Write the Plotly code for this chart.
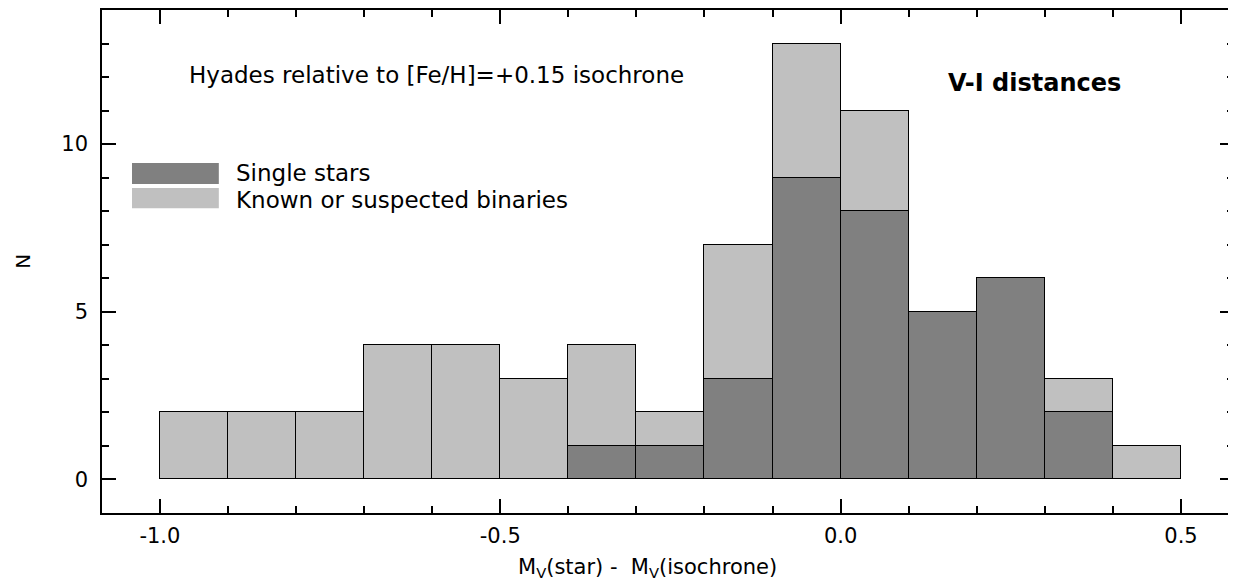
import plotly.graph_objects as go

bin_left = [-1.0, -0.9, -0.8, -0.7, -0.6, -0.5, -0.4, -0.3, -0.2, -0.1, 0.0, 0.1, 0.2, 0.3, 0.4]
single = [0, 0, 0, 0, 0, 0, 1, 1, 3, 9, 8, 5, 6, 2, 0]
binaries = [2, 2, 2, 4, 4, 3, 3, 1, 4, 4, 3, 0, 0, 1, 1]
bin_width = 0.1
x_tickvals = [-1.0, -0.5, 0.0, 0.5]
x_ticktext = ["-1.0", "-0.5", "0.0", "0.5"]
y_tickvals = [0, 5, 10]
y_ticktext = ["0", "5", "10"]

DARK = "#808080"
LIGHT = "#c0c0c0"
FONT = "DejaVu Sans"

centers = [b + bin_width / 2 for b in bin_left]

fig = go.Figure()
fig.add_trace(go.Bar(x=centers, y=single, width=bin_width, marker=dict(color=DARK, line=dict(color="black", width=1.2)),
                     name="Single stars", showlegend=False))
fig.add_trace(go.Bar(x=centers, y=binaries, width=bin_width, marker=dict(color=LIGHT, line=dict(color="black", width=1.2)),
                     name="Known or suspected binaries", showlegend=False))

axis_common = dict(showline=True, linecolor="black", linewidth=1.5, mirror="ticks", ticks="inside",
                   tickcolor="black", tickwidth=1.5, ticklen=14, showgrid=False, zeroline=False,
                   tickfont=dict(family=FONT, size=21, color="black"))

fig.update_xaxes(range=[-1.085, 0.5778], tickvals=x_tickvals, ticktext=x_ticktext,
                 minor=dict(dtick=0.1, tick0=0, ticklen=7, ticks="inside", tickcolor="black", tickwidth=1.5),
                 ticklabelstandoff=3, **axis_common)
fig.update_yaxes(range=[-1, 14], tickvals=y_tickvals, ticktext=y_ticktext,
                 minor=dict(dtick=1, tick0=0, ticklen=7, ticks="inside", tickcolor="black", tickwidth=1.5),
                 ticklabelstandoff=8, **axis_common)

# axis titles
fig.add_annotation(xref="paper", yref="paper", x=0.482, y=-0.109, text="M<sub>V</sub>(star) -  M<sub>V</sub>(isochrone)",
                   showarrow=False, xanchor="center", yanchor="middle", font=dict(family=FONT, size=21, color="black"))
fig.add_annotation(xref="paper", yref="paper", x=-0.0705, y=0.5, text="N", textangle=-90,
                   showarrow=False, xanchor="center", yanchor="middle", font=dict(family=FONT, size=20, color="black"))

# custom legend
legend_items = [("Single stars", DARK, 0.654, 0.6958, 0.676), ("Known or suspected binaries", LIGHT, 0.606, 0.646, 0.622)]
for label, col, y0, y1, yt in legend_items:
    fig.add_shape(type="rect", xref="paper", yref="paper", x0=0.0265, x1=0.1032, y0=y0, y1=y1,
                  fillcolor=col, line=dict(width=0))
    fig.add_annotation(xref="paper", yref="paper", x=0.117, y=yt, text=label, showarrow=False,
                       xanchor="left", yanchor="middle", font=dict(family=FONT, size=23, color="black"))

fig.add_annotation(xref="paper", yref="paper", x=0.075, y=0.871, text="Hyades relative to [Fe/H]=+0.15 isochrone",
                   showarrow=False, xanchor="left", yanchor="middle", font=dict(family=FONT, size=23, color="black"))
fig.add_annotation(xref="paper", yref="paper", x=0.746, y=0.855, text="<b>V-I distances</b>",
                   showarrow=False, xanchor="left", yanchor="middle", font=dict(family=FONT, size=24, color="black"))

fig.update_layout(width=1228, height=574, margin=dict(l=94, r=0, t=2, b=69),
                  barmode="stack", bargap=0, plot_bgcolor="white", paper_bgcolor="white")

fig.write_html("out.html")
